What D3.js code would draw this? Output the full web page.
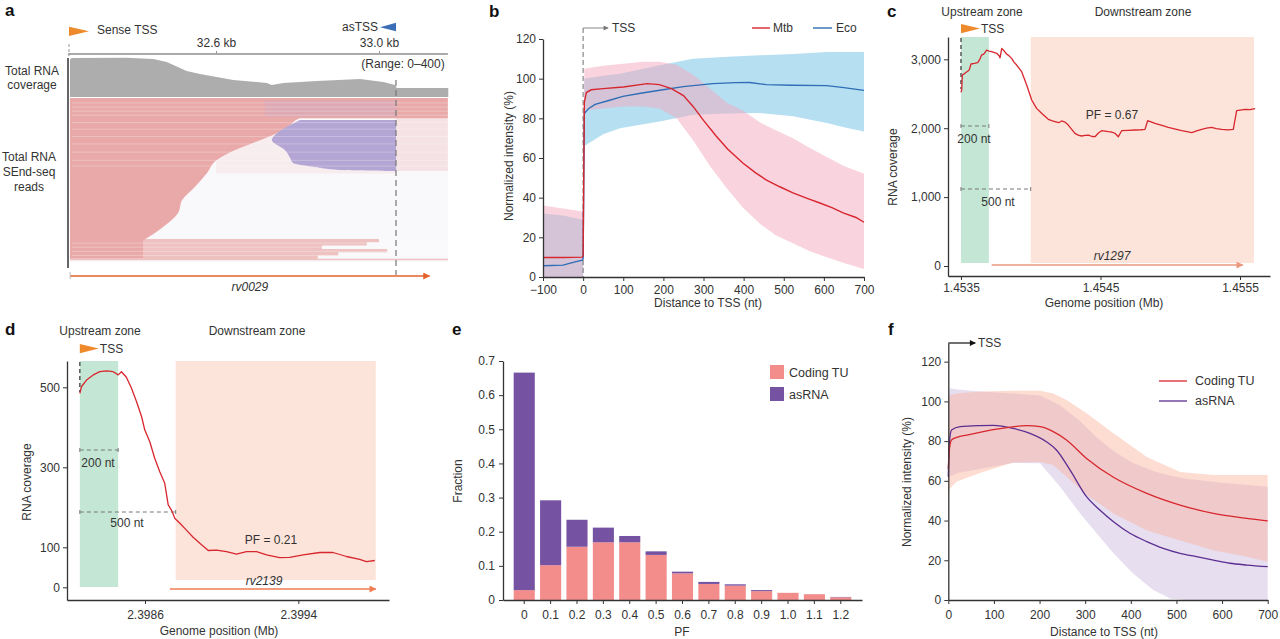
<!DOCTYPE html>
<html><head><meta charset="utf-8">
<script src="https://cdn.jsdelivr.net/npm/d3@7"></script>
<style>html,body{margin:0;padding:0;background:#fff;}svg{display:block;}</style>
</head><body>
<svg id="fig" width="1280" height="639"></svg>
<script>
// ================= DATA =================
// Panel a: coverage track (kb, coverage 0-400) and read pileup outlines (row %, kb)
const aCovKb  = [32.2417, 32.2458, 32.3809, 32.4462, 32.479, 32.5117, 32.528, 32.5607, 32.6425, 32.7244, 32.7367, 32.7652, 32.8471, 32.9534, 33.0106, 33.0393, 33.0434, 33.17];
const aCovVal = [375, 390, 393, 380, 350, 290, 260, 230, 170, 140, 120, 140, 160, 180, 150, 120, 90, 90];
const aSenseRow = [0, 12.3, 12.3, 16.5, 21.3, 27.4, 31.7, 37.8, 45.7, 54.3, 62.2, 70.1, 78.7, 82.3, 85.4, 87.2, 97.6];
const aSenseEnd = [33.169, 33.169, 32.806, 32.782, 32.750, 32.691, 32.647, 32.602, 32.578, 32.548, 32.517, 32.507, 32.470, 32.450, 32.431, 32.421, 32.421];
const aAntiRow   = [13.4, 16.5, 21.3, 25.6, 31.7, 36.6, 39.6, 42.1, 43.9, 44.5];
const aAntiStart = [32.806, 32.782, 32.750, 32.737, 32.769, 32.782, 32.789, 32.843, 32.904, 33.03];
const aTailRow = [86, 88, 90, 92, 94, 96, 98, 99];
const aTailEnd = [32.93, 33.0, 32.97, 32.86, 33.02, 32.9, 32.85, 33.169];
const aGeneStart = 32.242, aGeneEnd = 33.124, aAsTSS = 33.0417, aSenseTSS = 32.2417, aRegionEnd = 33.169;
const aRulerTicks = [32.6, 33.0];

// Panel b: metagene profiles (nt vs %)
const mtbX = [-100, -50, -2, 0, 3, 8, 20, 50, 100, 160, 190, 220, 250, 274, 300, 332, 360, 398, 430, 456, 490, 523, 560, 590, 620, 648, 680, 700];
const mtbY = [9.8, 9.8, 10, 11, 88, 93, 94.4, 95, 95.8, 97.5, 97, 95, 91.5, 86, 79, 71, 64.5, 57.5, 52.5, 49, 45.5, 42.4, 39.5, 37.3, 35, 32.3, 30, 27.6];
const mtbBandX = [-100, -50, -2, 0, 3, 50, 100, 150, 190, 233, 274, 316, 357, 398, 440, 480, 523, 565, 607, 650, 700];
const mtbLo = [0, 0, 0, 0, 84, 85, 86, 86, 85, 80, 69, 56, 45, 35, 27, 21, 17, 13, 10, 7, 4];
const mtbHi = [36, 34.5, 33, 33, 105, 106.5, 107.5, 108.5, 108.5, 107, 102, 95, 88, 84, 78, 74, 70, 65, 60.5, 56, 52];
const ecoX = [-100, -50, -20, -2, 0, 3, 14, 30, 64, 99, 147, 199, 250, 323, 380, 415, 456, 520, 607, 650, 700];
const ecoY = [5.7, 6, 7.6, 8.5, 9.3, 82.4, 85, 87, 89, 91.1, 92.8, 94.4, 96, 97.5, 98, 98.1, 97, 96.7, 96.5, 95.5, 94.1];
const ecoBandX = [-100, -50, -2, 0, 3, 50, 92, 150, 191, 274, 360, 440, 523, 607, 650, 700];
const ecoLo = [0, 0, 0, 0, 66, 72, 75, 77, 78.4, 81.8, 82.5, 82.7, 81, 77.6, 75.5, 73.4];
const ecoHi = [32, 31, 29, 29, 100, 101.5, 102.5, 105, 106.8, 110, 111, 111.8, 112.5, 113.5, 113.5, 113.5];
const bTicksX = [-100, 0, 100, 200, 300, 400, 500, 600, 700];
const bTicksY = [0, 20, 40, 60, 80, 100, 120];

// Panel c: rv1297 coverage (nt from TSS at 1.4535 Mb)
const cTSS = 1.4535;
const cNt  = [0, 5, 10, 30, 53, 60, 72, 95, 120, 135, 148, 165, 184, 200, 220, 256, 275, 280, 292, 310, 327, 345, 363, 380, 399, 435, 471, 507, 542, 578, 626, 650, 674, 700, 722, 745, 769, 817, 840, 865, 890, 913, 940, 961, 985, 1008, 1056, 1080, 1104, 1128, 1152, 1200, 1247, 1290, 1319, 1338, 1391, 1440, 1486, 1530, 1582, 1620, 1654, 1690, 1725, 1760, 1797, 1830, 1869, 1910, 1952, 1976, 2036, 2070, 2108];
const cCov = [2520, 2554, 2772, 2800, 2835, 2850, 2932, 2940, 2951, 3000, 3062, 3080, 3135, 3120, 3111, 3087, 3048, 3020, 3159, 3120, 3077, 3050, 3014, 2960, 2917, 2820, 2627, 2409, 2288, 2216, 2129, 2110, 2095, 2080, 2105, 2090, 2046, 1926, 1900, 1887, 1895, 1901, 1880, 1877, 1930, 1964, 1950, 1945, 1926, 1877, 1964, 1970, 1974, 1978, 1984, 2109, 2071, 2040, 2013, 1990, 1964, 1950, 1935, 1960, 1984, 2000, 2013, 1995, 1984, 1975, 1984, 2254, 2274, 2270, 2283];
const cTicksX = [1.4535, 1.4545, 1.4555];
const cTicksY = [0, 1000, 2000, 3000];
const cDownEnd = 2100, cGeneStart = 220, cGeneEnd = 2020;

// Panel d: rv2139 coverage (nt from TSS)
const dTSS = 2.39826;
const dNt  = [0, 9, 35, 70, 104, 139, 174, 200, 217, 243, 270, 296, 322, 339, 365, 391, 417, 443, 461, 478, 496, 522, 556, 591, 626, 670, 713, 765, 817, 870, 922, 974, 1043, 1095, 1165, 1252, 1321, 1391, 1460, 1495, 1539];
const dCov = [485, 502, 518, 531, 539, 541, 539, 531, 539, 525, 497, 464, 427, 393, 364, 322, 289, 260, 206, 193, 172, 160, 143, 125, 110, 92, 93, 89, 83, 89, 89, 81, 74, 75, 81, 87, 87, 77, 70, 64, 67];
const dTicksX = [2.3986, 2.3994];
const dTicksY = [0, 100, 300, 500];
const dDownEnd = 1544, dGeneStart = 470, dGeneEnd = 1544;

// Panel e: PF distribution
const pfCats = ["0", "0.1", "0.2", "0.3", "0.4", "0.5", "0.6", "0.7", "0.8", "0.9", "1.0", "1.1", "1.2"];
const codingTU = [0.029, 0.102, 0.156, 0.169, 0.169, 0.132, 0.078, 0.047, 0.042, 0.026, 0.021, 0.017, 0.008];
const asRNA    = [0.637, 0.190, 0.079, 0.043, 0.0185, 0.0105, 0.005, 0.006, 0.004, 0.003, 0.000, 0.000, 0.001];
const eTicksY = [0, 0.1, 0.2, 0.3, 0.4, 0.5, 0.6, 0.7];

// Panel f: coding TU vs asRNA profiles
const fCodX = [0, 2, 7, 20, 40, 106, 172, 201, 230, 259, 303, 362, 435, 508, 581, 654, 700];
const fCodY = [66, 75, 80.6, 82, 83, 86, 87.8, 87.3, 84.8, 80.6, 71.3, 61.8, 53.7, 47.8, 43.6, 41.1, 39.8];
const fAsX = [0, 2, 7, 26, 69, 99, 142, 179, 215, 237, 267, 303, 332, 362, 398, 435, 471, 508, 544, 581, 617, 654, 700];
const fAsY = [62, 78, 85.6, 87.3, 87.8, 87.9, 86.4, 83.9, 79.7, 75.5, 65.4, 52, 45.3, 39.4, 33.6, 29.4, 26, 23.5, 21.8, 20.1, 18.5, 17.6, 16.8];
const fCodBandX = [0, 3, 18, 69, 142, 201, 230, 259, 303, 362, 435, 508, 581, 654, 700];
const fCodLo = [50, 56, 59.5, 64, 69.2, 69.5, 68, 62, 53, 43.6, 35, 30, 25, 21.8, 19.3];
const fCodHi = [99.8, 103, 104, 105, 105.4, 105.4, 104, 100.7, 94, 84, 72, 64.5, 63, 63, 63];
const fAsBandX = [0, 3, 20, 69, 142, 201, 245, 289, 325, 362, 405, 449, 486, 520, 600, 700];
const fAsLo = [58, 62, 64, 66, 69, 68.8, 57, 43.6, 33.6, 23.5, 13.4, 5, 0.8, 0, 0, 0];
const fAsHi = [100, 106.6, 106, 105, 104, 103, 98, 90, 82, 75, 69, 65, 62.5, 61, 59, 57];
const fTicksX = [0, 100, 200, 300, 400, 500, 600, 700];
const fTicksY = [0, 20, 40, 60, 80, 100, 120];

// ================= DRAW =================
const FONT = '"Liberation Sans", Arial, Helvetica, sans-serif';
const TXT = "#333";
const RED = "#d8262e", BLUE = "#2f6db5", PURPLE = "#5b2d91", ORANGE = "#ee8a2c";
const svg = d3.select("#fig").attr("font-family", FONT);
svg.append("rect").attr("width", 1280).attr("height", 639).attr("fill", "#fff");
const defs = svg.append("defs");
function marker(id, color, w, h) {
  defs.append("marker").attr("id", id).attr("viewBox", "0 0 10 10").attr("refX", 9).attr("refY", 5)
    .attr("markerWidth", w).attr("markerHeight", h).attr("markerUnits", "userSpaceOnUse").attr("orient", "auto")
    .append("path").attr("d", "M0,0L10,5L0,10Z").attr("fill", color);
}
marker("arA", "#e5622d", 11, 7);
marker("arC", "#e99a7e", 11, 7);
marker("arD", "#ef7d55", 11, 7);
marker("arGray", "#777", 6, 5);
marker("arBlack", "#111", 7, 6);

function txt(g, x, y, s, o = {}) {
  const t = g.append("text").attr("x", x).attr("y", y).text(s)
    .attr("font-size", o.size || 12).attr("fill", o.fill || TXT)
    .attr("text-anchor", o.anchor || "start");
  if (o.weight) t.attr("font-weight", o.weight);
  if (o.italic) t.attr("font-style", "italic");
  if (o.rot) t.attr("transform", `rotate(-90 ${x} ${y})`);
  return t;
}
function styleAxis(g) {
  g.attr("font-family", FONT).attr("font-size", 12);
  g.select(".domain").attr("stroke", "#333").attr("stroke-width", 1.3);
  g.selectAll(".tick line").attr("stroke", "#333");
  g.selectAll(".tick text").attr("fill", TXT);
}
const zip2 = (xs, ys) => xs.map((x, i) => [x, ys[i]]);
const zip3 = (xs, lo, hi) => xs.map((x, i) => ({ x, lo: lo[i], hi: hi[i] }));

// ---------- Panel a ----------
{
  const g = svg.append("g");
  const xA = d3.scaleLinear([32.6, 33.0], [216, 379]);
  const yCov = d3.scaleLinear([0, 400], [97, 57]);
  const yRow = d3.scaleLinear([0, 100], [98, 262]);
  txt(g, 5, 16, "a", { size: 17, weight: "bold", fill: "#111" });
  g.append("path").attr("d", d3.line()([[xA(aSenseTSS) - 1, 26.7], [xA(aSenseTSS) - 1, 36], [xA(aSenseTSS) + 19, 31.3]])).attr("fill", ORANGE);
  txt(g, 97, 34, "Sense TSS");
  g.append("path").attr("d", d3.line()([[xA(aAsTSS), 22.7], [xA(aAsTSS), 31.3], [xA(aAsTSS) - 16, 27.3]])).attr("fill", "#3b6fb6");
  txt(g, 378, 31, "asTSS", { anchor: "end" });
  g.append("line").attr("x1", xA(aSenseTSS) - 2).attr("x2", xA(aRegionEnd)).attr("y1", 54).attr("y2", 54).attr("stroke", "#aaa").attr("stroke-width", 2);
  const ax = g.append("g").attr("transform", "translate(0,54)")
    .call(d3.axisTop(xA).tickValues(aRulerTicks).tickFormat(d => d.toFixed(1) + " kb").tickSize(3).tickPadding(4));
  styleAxis(ax); ax.select(".domain").remove(); ax.selectAll(".tick line").attr("stroke", "#999");
  g.append("line").attr("x1", xA(aSenseTSS) - 1).attr("x2", xA(aSenseTSS) - 1).attr("y1", 44).attr("y2", 56).attr("stroke", "#999").attr("stroke-dasharray", "3,2");
  g.append("path").datum(zip2(aCovKb, aCovVal))
    .attr("d", d3.area().x(d => xA(d[0])).y0(yCov(0)).y1(d => yCov(d[1])))
    .attr("fill", "#adadad");
  txt(g, 403, 68, "(Range: 0\u2013400)", { anchor: "middle" });
  g.append("rect").attr("x", xA(aSenseTSS)).attr("y", yRow(0)).attr("width", xA(aRegionEnd) - xA(aSenseTSS)).attr("height", yRow(100) - yRow(0)).attr("fill", "#f9f8fa");
  g.append("path").datum([[12.3, 0], [44.5, 0]])
    .attr("d", d3.area().y(d => yRow(d[0])).x0(xA(aAsTSS)).x1(xA(aRegionEnd))).attr("fill", "#f4e2e5");
  g.append("path").datum([[21, 0], [46, 0]])
    .attr("d", d3.area().y(d => yRow(d[0])).x0(xA(32.6)).x1(xA(aAsTSS))).attr("fill", "#f7ecee");
  g.append("path").datum(zip2(aTailRow, aTailEnd))
    .attr("d", d3.area().curve(d3.curveStepAfter).y(d => yRow(d[0])).x0(xA(aSenseTSS)).x1(d => xA(d[1])))
    .attr("fill", "#efc2c2");
  g.append("path").datum(zip2(aSenseRow, aSenseEnd))
    .attr("d", d3.area().curve(d3.curveMonotoneY).y(d => yRow(d[0])).x0(xA(aSenseTSS)).x1(d => xA(d[1])))
    .attr("fill", "#e9a9a9");
  g.append("path").datum([[1.5, 0], [11.5, 0]])
    .attr("d", d3.area().y(d => yRow(d[0])).x0(xA(32.72)).x1(xA(aAsTSS))).attr("fill", "#b7a8d6").attr("fill-opacity", 0.22);
  g.append("path").datum(zip2(aAntiRow, aAntiStart))
    .attr("d", d3.area().curve(d3.curveMonotoneY).y(d => yRow(d[0])).x0(d => xA(d[1])).x1(xA(aAsTSS)))
    .attr("fill", "#b3a5d4");
  const gaps = [3, 5.5, 8, 10.5, 15, 19, 23.5, 28, 33, 38, 41.5, 88.5, 91, 93.5, 96];
  g.selectAll("line.gap").data(gaps).join("line").attr("class", "gap")
    .attr("x1", xA(aSenseTSS) + 2).attr("x2", xA(aRegionEnd)).attr("y1", d => yRow(d)).attr("y2", d => yRow(d))
    .attr("stroke", "#fff").attr("stroke-opacity", 0.35).attr("stroke-width", 0.8);
  g.append("line").attr("x1", 68).attr("x2", 68).attr("y1", 58).attr("y2", 268).attr("stroke", "#333").attr("stroke-width", 1.5);
  g.append("line").attr("x1", xA(aAsTSS)).attr("x2", xA(aAsTSS)).attr("y1", 80).attr("y2", 275).attr("stroke", "#777").attr("stroke-width", 1.2).attr("stroke-dasharray", "6,4");
  g.append("line").attr("x1", xA(aGeneStart)).attr("x2", xA(aGeneEnd)).attr("y1", 276).attr("y2", 276)
    .attr("stroke", "#e5622d").attr("stroke-width", 1.5).attr("marker-end", "url(#arA)");
  g.append("line").attr("x1", xA(aGeneStart)).attr("x2", xA(aGeneStart)).attr("y1", 272).attr("y2", 279).attr("stroke", "#bbb");
  txt(g, xA((aGeneStart + aGeneEnd) / 2), 291, "rv0029", { anchor: "middle", italic: true });
  txt(g, 32, 75, "Total RNA", { anchor: "middle" });
  txt(g, 32, 89, "coverage", { anchor: "middle" });
  txt(g, 29, 161, "Total RNA", { anchor: "middle" });
  txt(g, 29, 176, "SEnd-seq", { anchor: "middle" });
  txt(g, 29, 191, "reads", { anchor: "middle" });
}

// ---------- Panel b ----------
{
  const g = svg.append("g");
  const xB = d3.scaleLinear([-100, 700], [543, 864]);
  const yB = d3.scaleLinear([0, 120], [277, 39]);
  txt(g, 489, 17, "b", { size: 17, weight: "bold", fill: "#111" });
  const band = d3.area().x(d => xB(d.x)).y0(d => yB(d.lo)).y1(d => yB(d.hi));
  g.append("path").datum(zip3(ecoBandX, ecoLo, ecoHi)).attr("d", band).attr("fill", "#b6e0f2");
  g.append("path").datum(zip3(mtbBandX, mtbLo, mtbHi)).attr("d", band).attr("fill", "#f4a7bd").attr("fill-opacity", 0.5);
  const line = d3.line().x(d => xB(d[0])).y(d => yB(d[1]));
  g.append("line").attr("x1", xB(0)).attr("x2", xB(0)).attr("y1", 28).attr("y2", yB(0)).attr("stroke", "#888").attr("stroke-width", 1.2).attr("stroke-dasharray", "5,3");
  g.append("path").datum(zip2(ecoX, ecoY)).attr("d", line).attr("fill", "none").attr("stroke", BLUE).attr("stroke-width", 1.4);
  g.append("path").datum(zip2(mtbX, mtbY)).attr("d", line).attr("fill", "none").attr("stroke", RED).attr("stroke-width", 1.4);
  g.append("line").attr("x1", xB(0)).attr("x2", xB(0) + 25).attr("y1", 28).attr("y2", 28).attr("stroke", "#888").attr("stroke-width", 1).attr("marker-end", "url(#arGray)");
  txt(g, 612, 32, "TSS");
  const axx = g.append("g").attr("transform", `translate(0,${yB(0)})`)
    .call(d3.axisBottom(xB).tickValues(bTicksX).tickSize(4).tickPadding(4).tickSizeOuter(0));
  styleAxis(axx);
  const axy = g.append("g").attr("transform", `translate(${xB(-100)},0)`)
    .call(d3.axisLeft(yB).tickValues(bTicksY).tickSize(4).tickPadding(3).tickSizeOuter(0));
  styleAxis(axy);
  txt(g, 708, 307, "Distance to TSS (nt)", { anchor: "middle" });
  txt(g, 513, 156, "Normalized intensity (%)", { anchor: "middle", rot: true });
  g.append("line").attr("x1", 752).attr("x2", 770).attr("y1", 28).attr("y2", 28).attr("stroke", RED).attr("stroke-width", 1.4);
  txt(g, 773, 32, "Mtb");
  g.append("line").attr("x1", 813).attr("x2", 832).attr("y1", 28).attr("y2", 28).attr("stroke", BLUE).attr("stroke-width", 1.4);
  txt(g, 836, 32, "Eco");
}

// ---------- Panel c / d shared ----------
function zonePanel(o) {
  const g = svg.append("g");
  const { x, y } = o;
  const mb = nt => o.tss + nt / 1e6;
  txt(g, o.letter[1], o.letter[2], o.letter[0], { size: 17, weight: "bold", fill: "#111" });
  g.append("rect").attr("x", x(mb(0))).attr("y", o.zoneTop).attr("width", x(mb(200)) - x(mb(0))).attr("height", o.greenBottom - o.zoneTop).attr("fill", "#c3e7d4");
  g.append("rect").attr("x", x(mb(500))).attr("y", o.zoneTop).attr("width", x(mb(o.downEnd)) - x(mb(500))).attr("height", o.peachBottom - o.zoneTop).attr("fill", "#fde4da");
  txt(g, o.upX, o.zoneTextY, "Upstream zone", { anchor: "middle" });
  txt(g, o.downX, o.zoneTextY, "Downstream zone", { anchor: "middle" });
  const tx = x(mb(0));
  g.append("path").attr("d", d3.line()([[tx, o.flagY], [tx, o.flagY + 9.3], [tx + 19, o.flagY + 4.6]])).attr("fill", ORANGE);
  txt(g, tx + 20, o.flagY + 9, "TSS");
  g.append("line").attr("x1", tx).attr("x2", tx).attr("y1", o.zoneTop + 1).attr("y2", o.tssDashEnd).attr("stroke", "#333").attr("stroke-width", 1.2).attr("stroke-dasharray", "4,3");
  function dist(nt, yy, label, lx, ly) {
    g.append("line").attr("x1", tx).attr("x2", x(mb(nt))).attr("y1", yy).attr("y2", yy).attr("stroke", "#777").attr("stroke-width", 1).attr("stroke-dasharray", "4,3");
    [tx, x(mb(nt))].forEach(px => g.append("line").attr("x1", px).attr("x2", px).attr("y1", yy - 2).attr("y2", yy + 2).attr("stroke", "#777"));
    txt(g, lx, ly, label, { anchor: "middle" });
  }
  dist(200, o.d200[0], "200 nt", o.d200[1], o.d200[2]);
  dist(500, o.d500[0], "500 nt", o.d500[1], o.d500[2]);
  g.append("line").attr("x1", x(mb(o.geneStart))).attr("x2", x(mb(o.geneEnd))).attr("y1", o.geneY).attr("y2", o.geneY)
    .attr("stroke", o.geneColor).attr("stroke-width", 1.5).attr("marker-end", `url(#${o.geneMarker})`);
  txt(g, o.geneText[0], o.geneText[1], o.gene, { anchor: "middle", italic: true });
  txt(g, o.pf[0], o.pf[1], o.pf[2], { anchor: "middle" });
  g.append("path").datum(zip2(o.nt, o.cov)).attr("d", d3.line().x(d => x(mb(d[0]))).y(d => y(d[1])))
    .attr("fill", "none").attr("stroke", RED).attr("stroke-width", 1.3).attr("stroke-linejoin", "round");
  const axx = g.append("g").attr("transform", `translate(0,${y.range()[0]})`)
    .call(d3.axisBottom(x).tickValues(o.ticksX).tickFormat(d3.format(".4f")).tickSize(4).tickPadding(o.padX).tickSizeOuter(0));
  styleAxis(axx);
  const axy = g.append("g").attr("transform", `translate(${x.range()[0]},0)`)
    .call(d3.axisLeft(y).tickValues(o.ticksY).tickFormat(d3.format(",")).tickSize(4).tickPadding(3).tickSizeOuter(0));
  styleAxis(axy);
  txt(g, o.xlab[0], o.xlab[1], "Genome position (Mb)", { anchor: "middle" });
  txt(g, o.ylab[0], o.ylab[1], "RNA coverage", { anchor: "middle", rot: true });
}

zonePanel({
  letter: ["c", 887, 17], tss: cTSS,
  x: d3.scaleLinear([1.453407, 1.455715], [948, 1270]),
  y: d3.scaleLinear([-145, 3324], [276, 37]),
  zoneTop: 37, greenBottom: 263, peachBottom: 263, downEnd: cDownEnd,
  upX: 982, downX: 1143, zoneTextY: 16, flagY: 24, tssDashEnd: 89,
  d200: [126, 974, 143], d500: [189, 998, 206],
  geneStart: cGeneStart, geneEnd: cGeneEnd, geneY: 265, geneColor: "#e99a7e", geneMarker: "arC", gene: "rv1297", geneText: [1112, 260],
  pf: [1112, 119, "PF = 0.67"], nt: cNt, cov: cCov,
  ticksX: cTicksX, ticksY: cTicksY, padX: 3,
  xlab: [1104, 307], ylab: [897, 167]
});

zonePanel({
  letter: ["d", 5, 335], tss: dTSS,
  x: d3.scaleLinear([2.398193, 2.399873], [67, 389]),
  y: d3.scaleLinear([-31.75, 565.75], [600, 361]),
  zoneTop: 361, greenBottom: 587, peachBottom: 580, downEnd: dDownEnd,
  upX: 100, downX: 257, zoneTextY: 335, flagY: 344, tssDashEnd: 392,
  d200: [450, 98, 467], d500: [512, 127, 527],
  geneStart: dGeneStart, geneEnd: dGeneEnd, geneY: 589, geneColor: "#ef7d55", geneMarker: "arD", gene: "rv2139", geneText: [264, 585],
  pf: [271, 544, "PF = 0.21"], nt: dNt, cov: dCov,
  ticksX: dTicksX, ticksY: dTicksY, padX: 6.5,
  xlab: [219, 635], ylab: [31, 482]
});

// ---------- Panel e ----------
{
  const g = svg.append("g");
  const xE = d3.scaleBand(pfCats, [503, 862]).paddingInner(0.2).paddingOuter(0.405);
  const yE = d3.scaleLinear([0, 0.7], [600, 361]);
  txt(g, 452, 335, "e", { size: 17, weight: "bold", fill: "#111" });
  g.selectAll("rect.cod").data(pfCats).join("rect").attr("class", "cod")
    .attr("x", d => xE(d)).attr("width", xE.bandwidth())
    .attr("y", (d, i) => yE(codingTU[i])).attr("height", (d, i) => yE(0) - yE(codingTU[i]))
    .attr("fill", "#f28d8b");
  g.selectAll("rect.as").data(pfCats).join("rect").attr("class", "as")
    .attr("x", d => xE(d)).attr("width", xE.bandwidth())
    .attr("y", (d, i) => yE(codingTU[i] + asRNA[i])).attr("height", (d, i) => yE(codingTU[i]) - yE(codingTU[i] + asRNA[i]))
    .attr("fill", "#7553a2");
  const axx = g.append("g").attr("transform", "translate(0,600)")
    .call(d3.axisBottom(xE).tickSize(4).tickPadding(6.5).tickSizeOuter(0));
  styleAxis(axx);
  const axy = g.append("g").attr("transform", "translate(503,0)")
    .call(d3.axisLeft(yE).tickValues(eTicksY).tickFormat(d => d === 0 ? "0" : d3.format(".1f")(d)).tickSize(4).tickPadding(4).tickSizeOuter(0));
  styleAxis(axy);
  txt(g, 682, 636, "PF", { anchor: "middle" });
  txt(g, 462, 481, "Fraction", { anchor: "middle", rot: true });
  g.append("rect").attr("x", 770).attr("y", 365).attr("width", 14).attr("height", 14).attr("fill", "#f28d8b");
  txt(g, 789, 377, "Coding TU", { size: 12.5 });
  g.append("rect").attr("x", 770).attr("y", 387).attr("width", 14).attr("height", 14).attr("fill", "#7553a2");
  txt(g, 789, 399, "asRNA", { size: 12.5 });
}

// ---------- Panel f ----------
{
  const g = svg.append("g");
  const xF = d3.scaleLinear([0, 700], [948.3, 1267.7]);
  const yF = d3.scaleLinear([0, 129.4], [600, 343]);
  txt(g, 888, 335, "f", { size: 17, weight: "bold", fill: "#111" });
  const band = d3.area().x(d => xF(d.x)).y0(d => yF(d.lo)).y1(d => yF(d.hi));
  g.append("path").datum(zip3(fAsBandX, fAsLo, fAsHi)).attr("d", band).attr("fill", "#c9b5de").attr("fill-opacity", 0.45);
  g.append("path").datum(zip3(fCodBandX, fCodLo, fCodHi)).attr("d", band).attr("fill", "#fbb19b").attr("fill-opacity", 0.45);
  const line = d3.line().curve(d3.curveMonotoneX).x(d => xF(d[0])).y(d => yF(d[1]));
  g.append("path").datum(zip2(fAsX, fAsY)).attr("d", line).attr("fill", "none").attr("stroke", PURPLE).attr("stroke-width", 1.3);
  g.append("path").datum(zip2(fCodX, fCodY)).attr("d", line).attr("fill", "none").attr("stroke", RED).attr("stroke-width", 1.3);
  const axx = g.append("g").attr("transform", "translate(0,600)")
    .call(d3.axisBottom(xF).tickValues(fTicksX).tickSize(4).tickPadding(6.5).tickSizeOuter(0));
  styleAxis(axx);
  const axy = g.append("g").attr("transform", `translate(${xF(0)},0)`)
    .call(d3.axisLeft(yF).tickValues(fTicksY).tickSize(4).tickPadding(3).tickSizeOuter(0));
  styleAxis(axy);
  g.append("line").attr("x1", xF(0)).attr("x2", xF(0) + 27).attr("y1", 343).attr("y2", 343).attr("stroke", "#111").attr("stroke-width", 1.2).attr("marker-end", "url(#arBlack)");
  txt(g, 978, 347, "TSS");
  txt(g, 1104, 636, "Distance to TSS (nt)", { anchor: "middle" });
  txt(g, 911, 482, "Normalized intensity (%)", { anchor: "middle", rot: true });
  g.append("line").attr("x1", 1159).attr("x2", 1187).attr("y1", 381).attr("y2", 381).attr("stroke", RED).attr("stroke-width", 1.3);
  txt(g, 1195, 385, "Coding TU", { size: 12.5 });
  g.append("line").attr("x1", 1159).attr("x2", 1187).attr("y1", 401).attr("y2", 401).attr("stroke", PURPLE).attr("stroke-width", 1.3);
  txt(g, 1195, 405, "asRNA", { size: 12.5 });
}
</script>
</body></html>
